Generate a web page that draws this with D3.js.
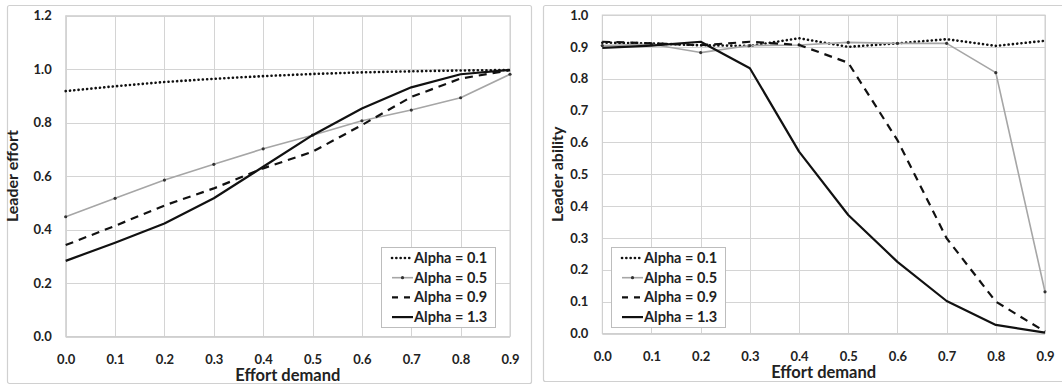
<!DOCTYPE html>
<html><head><meta charset="utf-8">
<script src="https://cdn.jsdelivr.net/npm/d3@7"></script>
<style>body{margin:0;background:#fff;}svg{display:block;font-family:Lato,"Open Sans",sans-serif;font-weight:bold;}</style>
</head><body>
<svg id="c" width="1062" height="388"></svg>
<script>
const xValues = [0.0,0.1,0.2,0.3,0.4,0.5,0.6,0.7,0.8,0.9];
const seriesNames = ["Alpha = 0.1","Alpha = 0.5","Alpha = 0.9","Alpha = 1.3"];
// Left chart: Leader effort
const effort01 = [0.918,0.936,0.952,0.964,0.974,0.982,0.988,0.992,0.995,0.997];
const effort05 = [0.448,0.517,0.585,0.644,0.702,0.753,0.807,0.847,0.893,0.981];
const effort09 = [0.342,0.414,0.490,0.554,0.629,0.691,0.791,0.896,0.965,0.996];
const effort13 = [0.283,0.351,0.423,0.517,0.635,0.753,0.853,0.932,0.981,0.997];
// Right chart: Leader ability
const ability01 = [0.913,0.911,0.905,0.903,0.927,0.900,0.911,0.924,0.903,0.919];
const ability05 = [0.904,0.908,0.882,0.904,0.906,0.914,0.911,0.911,0.819,0.131];
const ability09 = [0.916,0.911,0.905,0.916,0.906,0.850,0.607,0.299,0.100,0.006];
const ability13 = [0.897,0.904,0.916,0.833,0.571,0.372,0.225,0.102,0.027,0.003];
const leftYTicks = [0,0.2,0.4,0.6,0.8,1.0,1.2];
const rightYTicks = [0,0.1,0.2,0.3,0.4,0.5,0.6,0.7,0.8,0.9,1.0];

const styles = [
  {stroke:"#111", width:2.6, dash:"0.1,4.2", cap:"round", marker:false},
  {stroke:"#a6a6a6", width:1.6, dash:null, cap:"butt", marker:true},
  {stroke:"#111", width:2.2, dash:"8,6", cap:"butt", marker:false},
  {stroke:"#111", width:2.2, dash:null, cap:"butt", marker:false}
];

const svg = d3.select("#c");

function chart(cfg){
  const g = svg.append("g");
  g.append("rect").attr("x",cfg.frame[0]+0.5).attr("y",cfg.frame[1]+0.5)
    .attr("width",cfg.frame[2]).attr("height",cfg.frame[3])
    .attr("fill","#fff").attr("stroke","#d0d0d0").attr("stroke-width",1.2).attr("rx",2);
  const x = d3.scaleLinear().domain([0,0.9]).range(cfg.xr);
  const y = d3.scaleLinear().domain(cfg.yd).range(cfg.yr);
  g.selectAll(".gx").data(xValues).join("line")
    .attr("x1",d=>Math.round(x(d))+0.5).attr("x2",d=>Math.round(x(d))+0.5)
    .attr("y1",cfg.yr[0]).attr("y2",cfg.yr[1]).attr("stroke","#d4d4d4").attr("stroke-width",1);
  g.selectAll(".gy").data(cfg.yTicks).join("line")
    .attr("x1",cfg.xr[0]).attr("x2",cfg.xr[1])
    .attr("y1",d=>Math.round(y(d))+0.5).attr("y2",d=>Math.round(y(d))+0.5)
    .attr("stroke","#d4d4d4").attr("stroke-width",1);
  g.append("rect").attr("x",cfg.xr[0]).attr("y",cfg.yr[1]).attr("width",cfg.xr[1]-cfg.xr[0]).attr("height",cfg.yr[0]-cfg.yr[1])
    .attr("fill","none").attr("stroke","#cfcfcf");
  const ax = g.append("g").attr("transform",`translate(0,${cfg.yr[0]+15})`)
    .call(d3.axisBottom(x).tickValues(xValues).tickFormat(d3.format(".1f")).tickSize(0));
  ax.select(".domain").remove();
  ax.selectAll("text").attr("font-size",13).attr("font-weight","bold").attr("fill","#222").attr("font-family","Lato");
  const ay = g.append("g").attr("transform",`translate(${cfg.xr[0]-11},0)`)
    .call(d3.axisLeft(y).tickValues(cfg.yTicks).tickFormat(d3.format(".1f")).tickSize(0));
  ay.select(".domain").remove();
  ay.selectAll("text").attr("font-size",13).attr("font-weight","bold").attr("fill","#222").attr("font-family","Lato");
  g.append("text").attr("x",(cfg.xr[0]+cfg.xr[1])/2).attr("y",cfg.yr[0]+44.5)
    .attr("text-anchor","middle").attr("font-size",16.5).attr("fill","#222").text("Effort demand");
  g.append("text").attr("transform",`translate(${cfg.ytx},${(cfg.yr[0]+cfg.yr[1])/2}) rotate(-90)`)
    .attr("text-anchor","middle").attr("font-size",16).attr("fill","#222").text(cfg.ytitle);
  const line = d3.line().x((d,i)=>x(xValues[i])).y(d=>y(d));
  cfg.series.forEach((s,k)=>{
    const st = styles[k];
    const p = g.append("path").datum(s).attr("d",line).attr("fill","none")
      .attr("stroke",st.stroke).attr("stroke-width",st.width).attr("stroke-linecap",st.cap).attr("stroke-linejoin","round");
    if(st.dash) p.attr("stroke-dasharray",st.dash);
    if(st.marker){
      g.selectAll(null).data(s).join("circle").attr("cx",(d,i)=>x(xValues[i])).attr("cy",d=>y(d))
        .attr("r",1.6).attr("fill","#333");
    }
  });
  const L = cfg.legend;
  const lg = g.append("g").attr("transform",`translate(${L[0]},${L[1]})`);
  lg.append("rect").attr("x",0.5).attr("y",0.5).attr("width",114).attr("height",80)
    .attr("fill","#fff").attr("stroke","#bdbdbd");
  seriesNames.forEach((n,k)=>{
    const st = styles[k];
    const yy = 11 + k*19.7;
    const l = lg.append("line").attr("x1",11).attr("x2",32).attr("y1",yy).attr("y2",yy)
      .attr("stroke",st.stroke).attr("stroke-width",st.width).attr("stroke-linecap",st.cap);
    if(st.dash) l.attr("stroke-dasharray", k===2 ? "6,6" : st.dash);
    if(st.marker) lg.append("circle").attr("cx",21.5).attr("cy",yy).attr("r",1.6).attr("fill","#333");
    lg.append("text").attr("x",33).attr("y",yy+5).attr("font-size",14.5).attr("fill","#222").text(n);
  });
}

chart({frame:[7,5,524,378], xr:[65.7,510], yd:[0,1.2], yr:[336.5,15.7], yTicks:leftYTicks,
  ytitle:"Leader effort", ytx:18, series:[effort01,effort05,effort09,effort13], legend:[381,247]});
chart({frame:[543,5,530,376], xr:[602.3,1045], yd:[0,1.0], yr:[333.5,15], yTicks:rightYTicks,
  ytitle:"Leader ability", ytx:563, series:[ability01,ability05,ability09,ability13], legend:[611,247]});
</script>
</body></html>
